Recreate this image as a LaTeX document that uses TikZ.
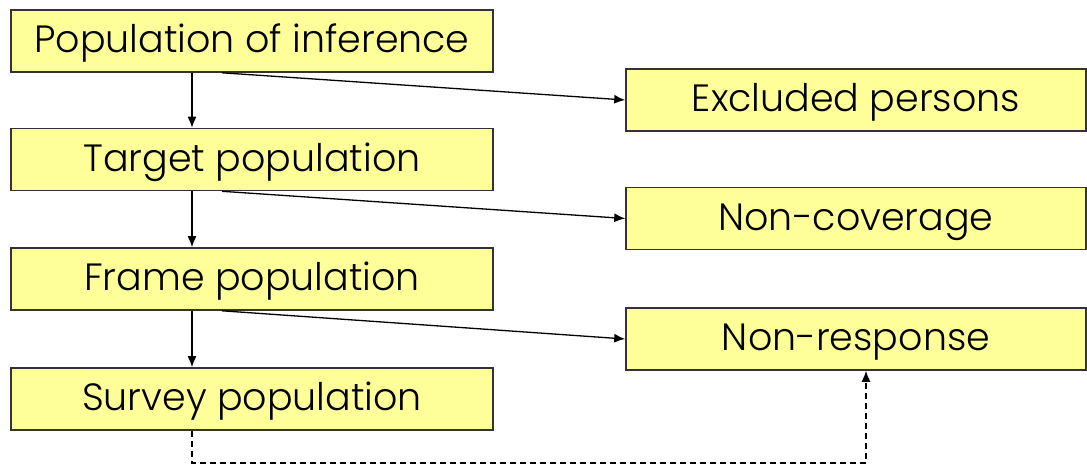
\documentclass[tikz,border=0pt]{standalone}
\usepackage{fontspec}
\setmainfont{Poppins Light}
\usetikzlibrary{arrows.meta}
\definecolor{boxfill}{HTML}{FFFF99}
\definecolor{boxline}{HTML}{333333}
\tikzset{
  box/.style={draw=boxline, line width=1.6pt, fill=boxfill, minimum height=62pt, inner sep=0pt, text height=23.5pt, text depth=0pt, font=\fontsize{38}{42}\selectfont},
  lbox/.style={box, minimum width=482pt},
  rbox/.style={box, minimum width=460pt},
  conn/.style={line width=1.3pt, -{Latex[length=11pt,width=9pt]}},
}
\begin{document}
\begin{tikzpicture}[x=1pt,y=-1pt]
\useasboundingbox (0,0) rectangle (1087,465);
\node[lbox] (p1) at (252,41) {Population of inference};
\node[lbox] (p2) at (252,159.5) {Target population};
\node[lbox] (p3) at (252,279) {Frame population};
\node[lbox] (p4) at (252,399) {Survey population};
\node[rbox] (r1) at (856,100) {Excluded persons};
\node[rbox] (r2) at (856,218.5) {Non-coverage};
\node[rbox] (r3) at (856,339) {Non-response};
\coordinate (vx) at (192,0);
\coordinate (dx) at (222,0);
\coordinate (hx) at (866,0);
\coordinate (b) at (0,463);
\draw[conn] (p1.south -| vx) -- (p2.north -| vx);
\draw[conn] (p2.south -| vx) -- (p3.north -| vx);
\draw[conn] (p3.south -| vx) -- (p4.north -| vx);
\draw[conn] (p1.south -| dx) -- (r1.west);
\draw[conn] (p2.south -| dx) -- (r2.west);
\draw[conn] (p3.south -| dx) -- (r3.west);
\draw[conn, dashed, dash pattern=on 6pt off 4pt] (p4.south -| vx) -- (vx |- b) -- (hx |- b) -- (r3.south -| hx);
\end{tikzpicture}
\end{document}
